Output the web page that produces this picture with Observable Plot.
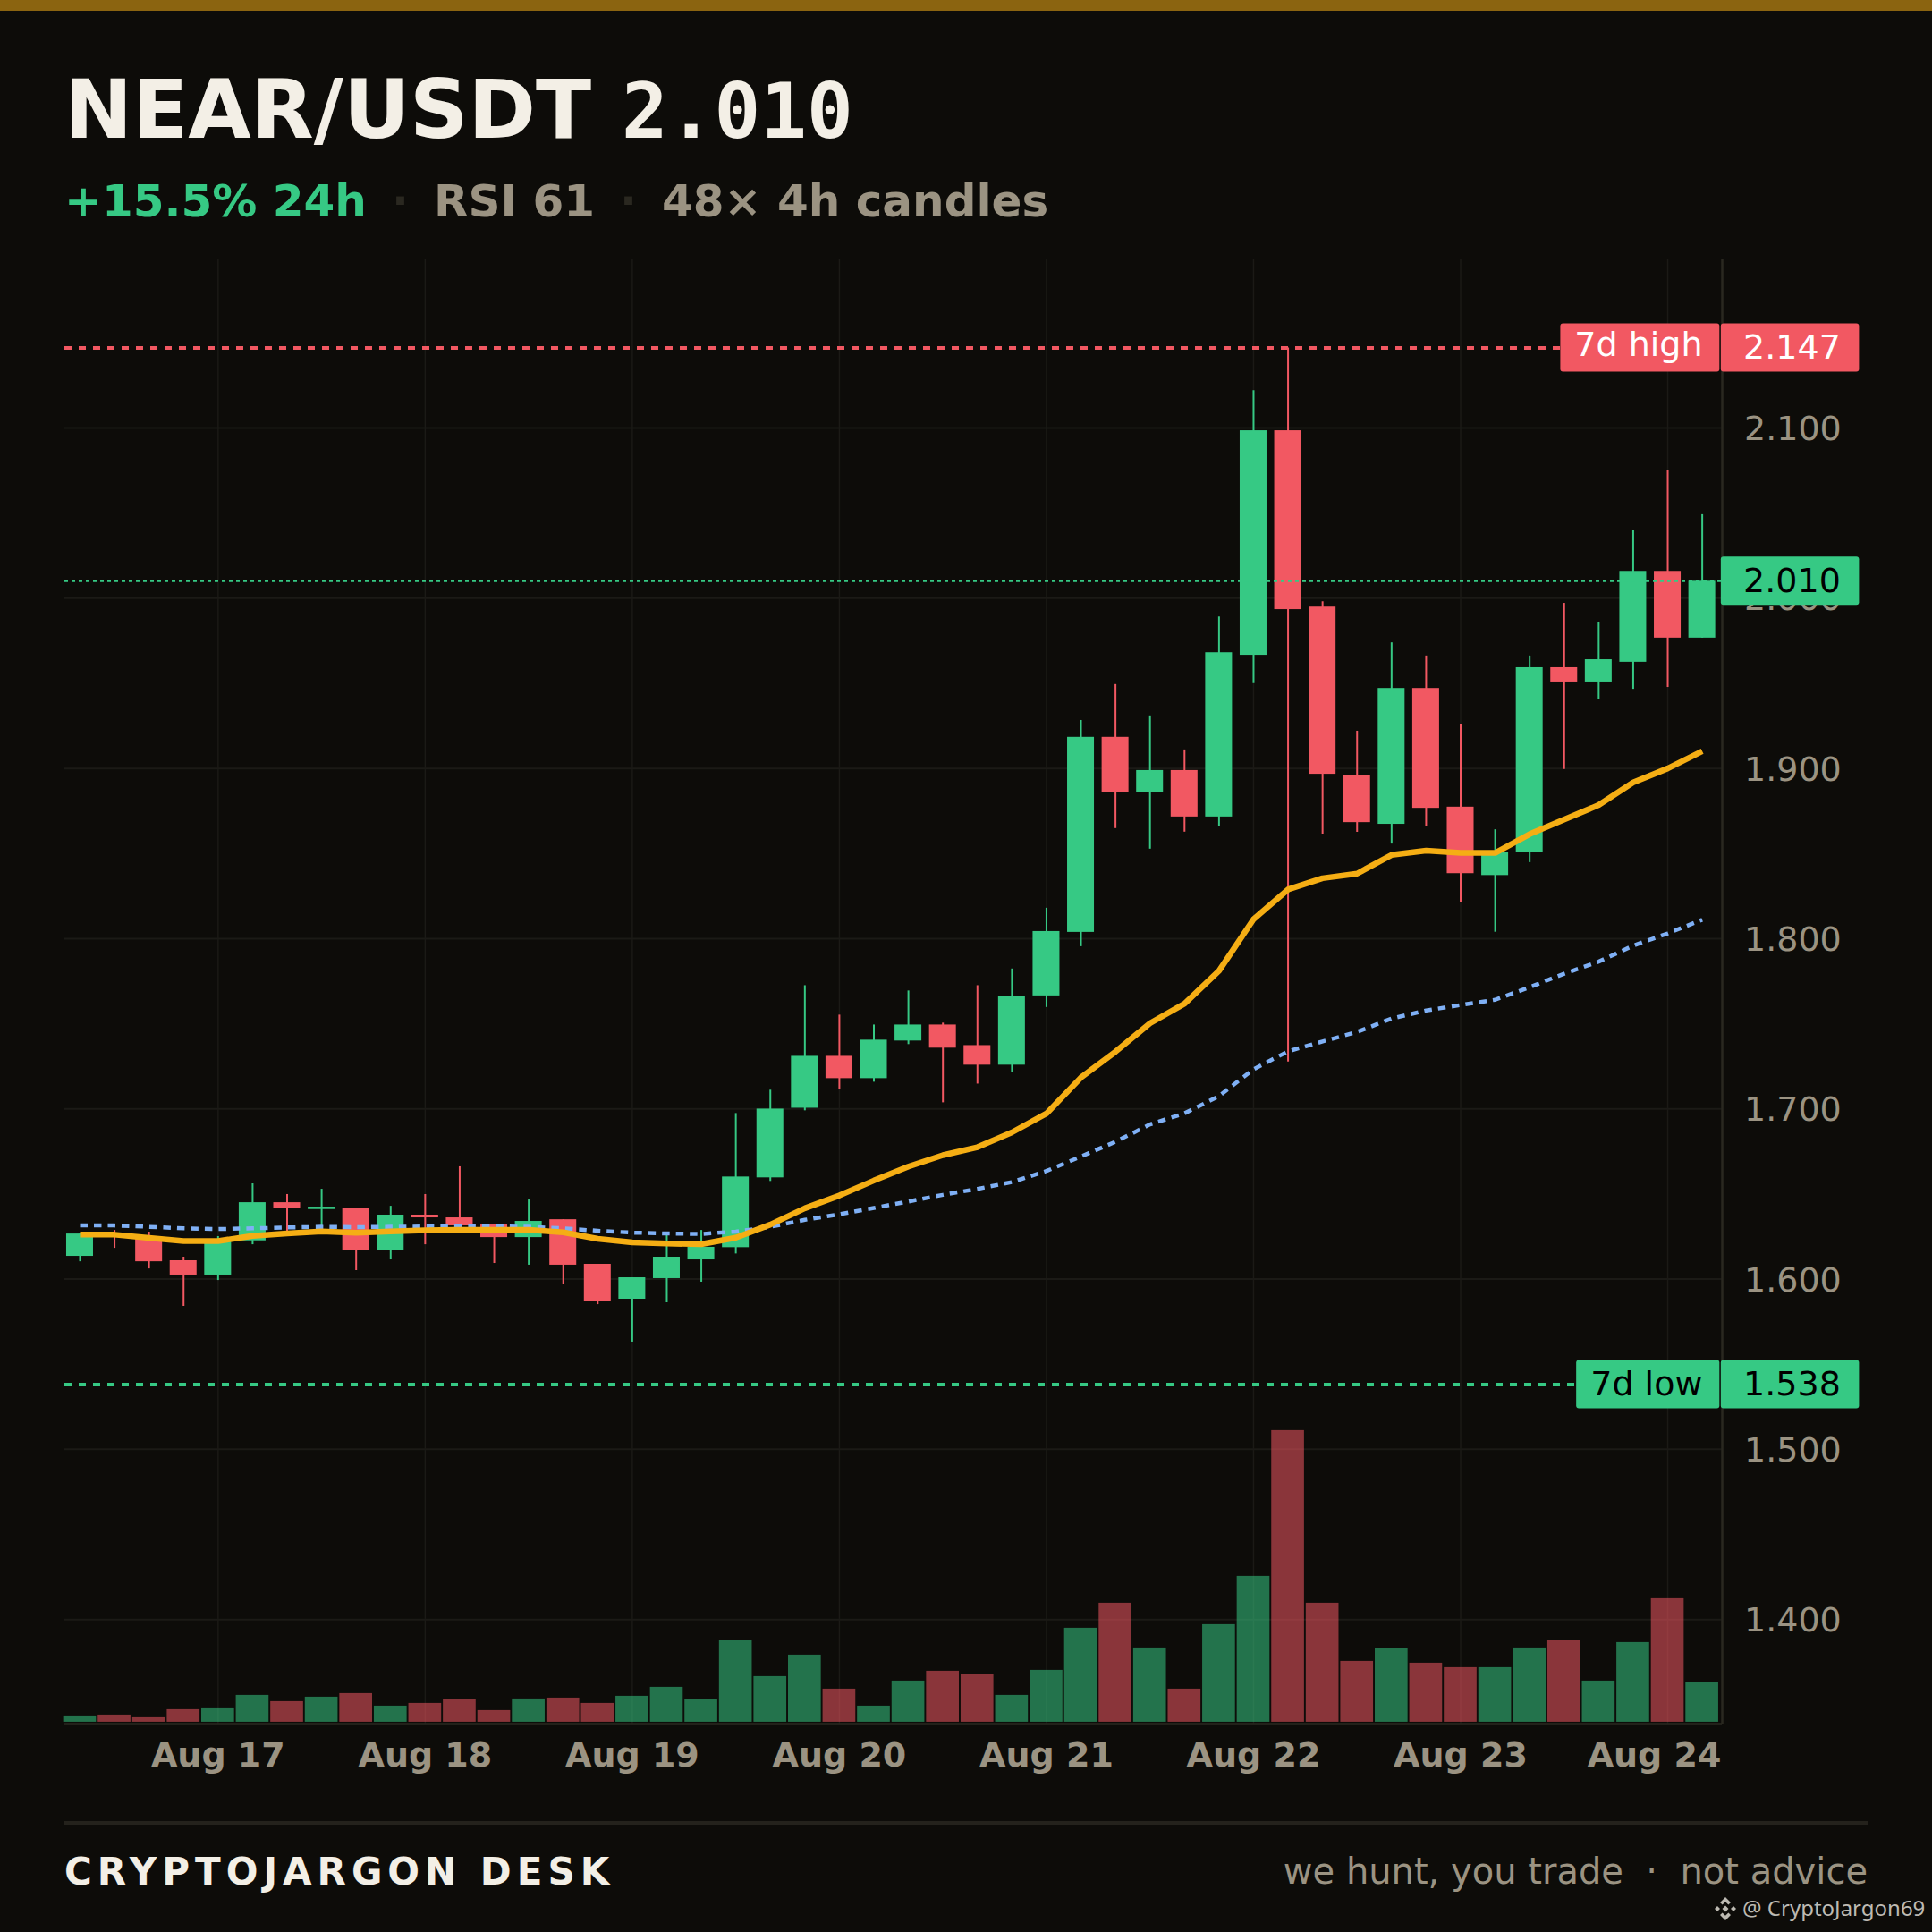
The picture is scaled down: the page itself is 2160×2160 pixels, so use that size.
<!DOCTYPE html>
<html>
<head>
<meta charset="utf-8">
<script src="https://cdn.jsdelivr.net/npm/d3@7"></script>
<script src="https://cdn.jsdelivr.net/npm/@observablehq/plot@0.6"></script>
<style>
html,body{margin:0;padding:0;background:#0d0c09;}
#page{position:relative;width:2160px;height:2160px;background:#0d0c09;overflow:hidden;font-family:"DejaVu Sans",sans-serif;}
#page>div,#page>svg{position:absolute;white-space:pre;line-height:1;}
#bar{left:0;top:0;width:2160px;height:12px;background:#8b6410;}
#rule{left:72px;top:2036px;width:2016px;height:4px;background:#24221c;}
.t{font-weight:700;color:#f3efe6;}
.s{font-size:50px;font-weight:700;color:#9b9382;}
</style>
</head>
<body>
<div id="page">
  <div id="bar"></div>
  <div class="t" style="left:72px;top:77px;font-size:91px;">NEAR/USDT</div>
  <div class="t" style="left:695px;top:81px;font-size:86px;font-family:'DejaVu Sans Mono',monospace;">2.010</div>
  <div class="s" style="left:72px;top:200px;color:#36c984">+15.5% 24h</div>
  <div class="s" style="left:438px;top:200px;color:#2a2820">·</div>
  <div class="s" style="left:485px;top:200px;">RSI 61</div>
  <div class="s" style="left:693px;top:200px;color:#2a2820">·</div>
  <div class="s" style="left:740px;top:200px;">48× 4h candles</div>
  <div id="chart" style="left:0;top:250px;"></div>
  <div id="rule"></div>
  <div id="brand" style="left:72px;top:2072px;font-size:42px;font-weight:700;letter-spacing:6px;color:#f3efe6;">CRYPTOJARGON DESK</div>
  <div id="motto" style="right:72px;top:2072px;font-size:40px;color:#9b9382;">we hunt, you trade  ·  not advice</div>
  <svg style="left:1915px;top:2120px;" width="28" height="28" viewBox="0 0 28 28" fill="#bdbab2">
    <path d="M14 1l6 6-2.6 2.6L14 6.2l-3.4 3.4L8 7z"/><path d="M14 27l-6-6 2.6-2.6 3.4 3.4 3.4-3.4L20 21z"/>
    <path d="M14 10.500l3.500 3.500-3.500 3.500-3.500-3.500z"/><path d="M5 11l3 3-3 3-3-3z"/><path d="M23 11l3 3-3 3-3-3z"/>
  </svg>
  <div id="mark" style="left:1948px;top:2121px;font-family:'Noto Sans',sans-serif;font-size:24px;color:#bdbab2;">@ CryptoJargon69</div>
</div>
<script>
const opens  = [1.6134,1.6265,1.6246,1.6108,1.6024,1.6225,1.6449,1.6409,1.6418,1.6171,1.6376,1.6360,1.6318,1.6244,1.6349,1.6087,1.5882,1.6003,1.6113,1.6185,1.6595,1.7004,1.7309,1.7178,1.7399,1.7493,1.7372,1.7257,1.7664,1.8037,1.9183,1.8857,1.8988,1.8715,1.9665,2.0984,1.9948,1.8961,1.8672,1.9470,1.8773,1.8371,1.8506,1.9592,1.9508,1.9624,2.0158,1.9766];
const closes = [1.6265,1.6250,1.6102,1.6024,1.6225,1.6449,1.6413,1.6423,1.6171,1.6376,1.6360,1.6313,1.6244,1.6339,1.6082,1.5871,1.6008,1.6129,1.6187,1.6600,1.6999,1.7309,1.7178,1.7404,1.7493,1.7357,1.7257,1.7661,1.8042,1.9183,1.8857,1.8988,1.8715,1.9680,2.0984,1.9933,1.8966,1.8682,1.9470,1.8766,1.8382,1.8507,1.9592,1.9508,1.9639,2.0158,1.9766,2.0100];
const highs  = [1.6265,1.6286,1.6276,1.6129,1.6250,1.6560,1.6497,1.6528,1.6418,1.6428,1.6497,1.6660,1.6318,1.6465,1.6349,1.6087,1.6008,1.6265,1.6286,1.6973,1.7110,1.7724,1.7551,1.7493,1.7693,1.7504,1.7724,1.7822,1.8179,1.9282,1.9493,1.9309,1.9109,1.9890,2.1220,2.1470,1.9980,1.9219,1.9738,1.9661,1.9260,1.8640,1.9661,1.9970,1.9860,2.0401,2.0752,2.0491];
const lows   = [1.6102,1.6181,1.6060,1.5840,1.5992,1.6202,1.6274,1.6286,1.6050,1.6113,1.6202,1.6281,1.6092,1.6082,1.5971,1.5850,1.5630,1.5861,1.5982,1.6148,1.6574,1.6989,1.7115,1.7157,1.7378,1.7036,1.7146,1.7215,1.7596,1.7953,1.8647,1.8526,1.8626,1.8657,1.9498,1.7276,1.8614,1.8625,1.8556,1.8657,1.8215,1.8038,1.8447,1.8994,1.9403,1.9465,1.9476,1.9766];
const volumes = [7,8,5,14,15,30,23,28,32,18,21,25,13,26,27,21,29,39,25,91,51,75,37,18,46,57,53,30,58,105,133,83,37,109,163,326,133,68,82,66,61,61,83,91,46,89,138,44];
const emaFast = [1.6261,1.6261,1.6242,1.6224,1.6224,1.6254,1.6268,1.6280,1.6272,1.6280,1.6287,1.6289,1.6289,1.6289,1.6275,1.6237,1.6216,1.6209,1.6205,1.6243,1.6320,1.6416,1.6491,1.6579,1.6661,1.6728,1.6775,1.6862,1.6973,1.7184,1.7336,1.7503,1.7618,1.7811,1.8114,1.8289,1.8355,1.8382,1.8492,1.8517,1.8504,1.8504,1.8614,1.8700,1.8785,1.8918,1.9000,1.9101];
const emaSlow = [1.6315,1.6315,1.6307,1.6298,1.6294,1.6298,1.6303,1.6307,1.6305,1.6307,1.6309,1.6309,1.6310,1.6307,1.6298,1.6284,1.6273,1.6268,1.6265,1.6279,1.6307,1.6348,1.6381,1.6418,1.6456,1.6495,1.6530,1.6570,1.6635,1.6720,1.6807,1.6909,1.6974,1.7075,1.7233,1.7338,1.7396,1.7452,1.7531,1.7578,1.7610,1.7641,1.7715,1.7794,1.7865,1.7959,1.8031,1.8111];
const dayTicks = [4,10,16,22,28,34,40,46];
const dayLabels = ["Aug 17","Aug 18","Aug 19","Aug 20","Aug 21","Aug 22","Aug 23","Aug 24"];
const priceTicks = [1.4,1.5,1.6,1.7,1.8,1.9,2.0,2.1];
const high7d = 2.147, low7d = 1.538, last = 2.010;

const GREEN="#36c984", RED="#f25862", ORANGE="#f5ae14", BLUE="#7fb0f5";
const MUTED="#9b9382", GRID="#1b1a16", AXIS="#2a2820";
const volUnit = 1/1903, volBase = 1.3397, tagHalf = 0.01419;

const candles = opens.map((o,i)=>({i,o,c:closes[i],h:highs[i],l:lows[i],v:volumes[i],up:closes[i]>=o}));
const fast = emaFast.map((v,i)=>({i,v}));
const slow = emaSlow.map((v,i)=>({i,v}));
const tags = [
  {label:"7d high",v:high7d,bg:RED,fg:"#ffffff",left:42.9},
  {label:"7d low",v:low7d,bg:GREEN,fg:"#000000",left:43.36},
  {label:null,v:last,bg:GREEN,fg:"#000000",left:null}
];
const xLeft=-0.44, xRight=47.58, xValEnd=51.555, xLabText=47.01, xValText=51.01;

const chart = Plot.plot({
  width:2160, height:1750,
  marginTop:40, marginBottom:73, marginLeft:72, marginRight:235,
  style:{background:"transparent",fontFamily:"DejaVu Sans"},
  x:{type:"linear",domain:[xLeft,xRight]},
  y:{type:"linear",domain:[1.3386,2.1988]},
  marks:[
    Plot.gridX({ticks:dayTicks,stroke:GRID,strokeWidth:1.5,strokeOpacity:1}),
    Plot.gridY({ticks:priceTicks,stroke:GRID,strokeWidth:2,strokeOpacity:1}),
    Plot.axisY({anchor:"right",ticks:priceTicks,tickFormat:d=>d.toFixed(3),tickSize:0,tickPadding:24.5,fontSize:38,fill:MUTED,label:null,dy:1.5}),
    Plot.axisX({ticks:dayTicks.slice(0,-1),tickFormat:d=>dayLabels[dayTicks.indexOf(d)],tickSize:0,tickPadding:21,fontSize:38,fontWeight:700,fill:MUTED,label:null}),
    Plot.axisX({ticks:dayTicks.slice(-1),tickFormat:d=>dayLabels[dayTicks.indexOf(d)],tickSize:0,tickPadding:21,fontSize:38,fontWeight:700,fill:MUTED,label:null,dx:-15}),
    Plot.rect(candles,{x1:d=>d.i-0.475,x2:d=>d.i+0.475,y1:volBase,y2:d=>volBase+d.v*volUnit,fill:d=>d.up?GREEN:RED,fillOpacity:0.55}),
    Plot.ruleX([xRight],{stroke:AXIS,strokeWidth:2.5}),
    Plot.ruleY([1.3386],{stroke:AXIS,strokeWidth:2.5}),
    Plot.ruleY([high7d],{x1:xLeft,x2:42.9,stroke:RED,strokeWidth:4,strokeDasharray:"8 8"}),
    Plot.ruleY([low7d],{x1:xLeft,x2:43.36,stroke:GREEN,strokeWidth:4,strokeDasharray:"8 8"}),
    Plot.ruleX(candles,{x:"i",y1:"l",y2:"h",stroke:d=>d.up?GREEN:RED,strokeWidth:2}),
    Plot.rect(candles,{x1:d=>d.i-0.389,x2:d=>d.i+0.389,y1:"o",y2:"c",fill:d=>d.up?GREEN:RED}),
    Plot.ruleY([last],{x1:xLeft,x2:xRight,stroke:GREEN,strokeWidth:2,strokeDasharray:"4 4"}),
    Plot.line(slow,{x:"i",y:"v",stroke:BLUE,strokeWidth:4.5,strokeDasharray:"8.5 7",strokeLinecap:"butt"}),
    Plot.line(fast,{x:"i",y:"v",stroke:ORANGE,strokeWidth:6.5,strokeLinecap:"butt"}),
    Plot.rect(tags.filter(d=>d.label),{x1:"left",x2:47.51,y1:d=>d.v-tagHalf,y2:d=>d.v+tagHalf,fill:"bg",rx:3}),
    Plot.rect(tags,{x1:47.55,x2:xValEnd,y1:d=>d.v-tagHalf,y2:d=>d.v+tagHalf,fill:"bg",rx:3}),
    Plot.text(tags.filter(d=>d.label==="7d high"),{x:xLabText,y:"v",text:"label",textAnchor:"end",fill:"fg",fontSize:38,dy:-3}),
    Plot.text(tags.filter(d=>d.label==="7d low"),{x:xLabText,y:"v",text:"label",textAnchor:"end",fill:"fg",fontSize:38}),
    Plot.text(tags,{x:xValText,y:"v",text:d=>d.v.toFixed(3),textAnchor:"end",fill:"fg",fontSize:38})
  ]
});
document.getElementById("chart").appendChild(chart);
</script>
</body>
</html>
